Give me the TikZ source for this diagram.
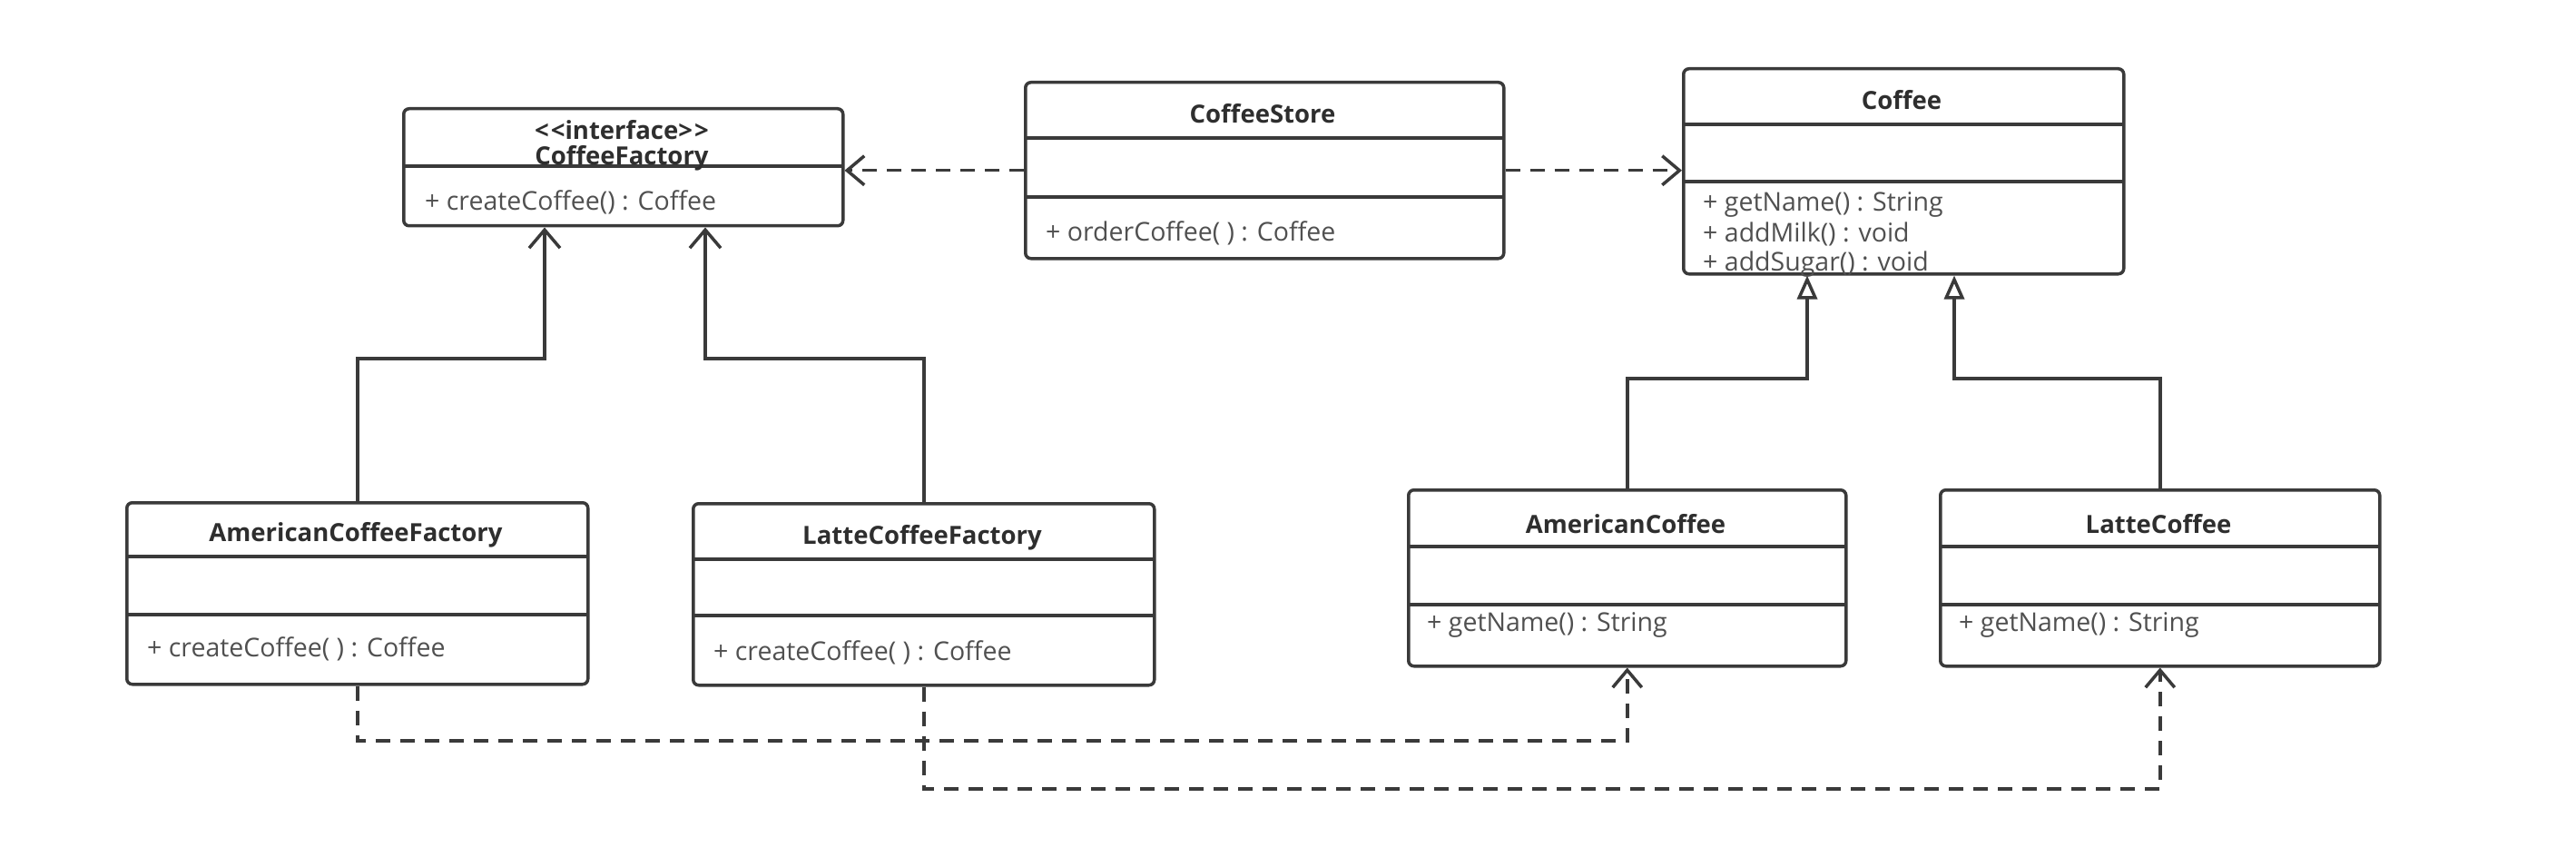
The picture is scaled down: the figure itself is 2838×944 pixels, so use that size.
\documentclass[tikz,border=0pt]{standalone}
\usepackage{fontspec}
\setmainfont{Open Sans}
\usetikzlibrary{arrows.meta}
\definecolor{ln}{HTML}{3A3A3A}
\definecolor{tx}{HTML}{505050}
\definecolor{tt}{HTML}{2E2E2E}
\tikzset{
  classbox/.style={draw=ln, line width=3.5pt, rounded corners=6pt, anchor=north west, inner sep=0pt},
  divider/.style={draw=ln, line width=3.5pt},
  title/.style={font=\fontsize{27.5}{31}\selectfont\bfseries, text=tt, inner sep=0pt},
  meth/.style={font=\fontsize{28.5}{32}\selectfont, text=tx, anchor=west, inner sep=0pt},
  conn/.style={draw=ln, line width=3.5pt},
  dep/.style={conn, dash pattern=on 16pt off 11pt, -{Straight Barb[length=19pt,width=32pt,line width=3.5pt]}},
  realize/.style={conn, -{Straight Barb[length=20pt,width=34pt,line width=3.5pt]}},
  inherit/.style={conn, -{Triangle[open,length=26pt,width=22pt,line width=3.5pt,fill=white]}},
}
\begin{document}
\begin{tikzpicture}[x=1pt,y=-1pt]
\useasboundingbox[fill=white] (0,0) rectangle (2838,944);

% CoffeeFactory
\node[classbox, minimum width=484pt, minimum height=129pt] (cf) at (443,118) {};
\draw[divider] (443,183) -- (927,183);
\node[title] (cft1) at (685,143) {<\kern2pt<interface>\kern2pt>};
\node[title] (cft2) at (685,174) {CoffeeFactory};
\node[meth] (cfm1) at (468,223) {+ createCoffee() : Coffee};

% CoffeeStore
\node[classbox, minimum width=527pt, minimum height=194pt] (cs) at (1128,89) {};
\draw[divider] (1128,152) -- (1655,152);
\draw[divider] (1128,217) -- (1655,217);
\node[title] (cst) at (1391,125) {CoffeeStore};
\node[meth] (csm1) at (1152,257) {+ orderCoffee( ) : Coffee};

% Coffee
\node[classbox, minimum width=485pt, minimum height=226pt] (co) at (1853,74) {};
\draw[divider] (1853,137) -- (2338,137);
\draw[divider] (1853,200) -- (2338,200);
\node[title] (cot) at (2095,110) {Coffee};
\node[meth] (com1) at (1876,225) {+ getName() : String};
\node[meth] (com2) at (1876,258) {+ addMilk() : void};
\node[meth] (com3) at (1876,291) {+ addSugar() : void};

% AmericanCoffeeFactory
\node[classbox, minimum width=508pt, minimum height=200pt] (acf) at (138,552) {};
\draw[divider] (138,613) -- (646,613);
\draw[divider] (138,677) -- (646,677);
\node[title] (acft) at (392,589) {AmericanCoffeeFactory};
\node[meth] (acfm) at (162,715) {+ createCoffee( ) : Coffee};

% LatteCoffeeFactory
\node[classbox, minimum width=508pt, minimum height=200pt] (lcf) at (762,553) {};
\draw[divider] (762,616) -- (1270,616);
\draw[divider] (762,678) -- (1270,678);
\node[title] (lcft) at (1016,592) {LatteCoffeeFactory};
\node[meth] (lcfm) at (786,719) {+ createCoffee( ) : Coffee};

% AmericanCoffee
\node[classbox, minimum width=482pt, minimum height=194pt] (ac) at (1550,538) {};
\draw[divider] (1550,602) -- (2032,602);
\draw[divider] (1550,666) -- (2032,666);
\node[title] (act) at (1791,577) {AmericanCoffee};
\node[meth] (acm) at (1572,688) {+ getName() : String};

% LatteCoffee
\node[classbox, minimum width=484pt, minimum height=194pt] (lc) at (2136,538) {};
\draw[divider] (2136,602) -- (2620,602);
\draw[divider] (2136,666) -- (2620,666);
\node[title] (lct) at (2378,577) {LatteCoffee};
\node[meth] (lcm) at (2158,688) {+ getName() : String};

% connectors
\draw[dep] (cs.west) -- (cf.east |- cs.west);
\draw[dep] (cs.east) -- (co.west |- cs.east);

\coordinate (k1) at (600,395);
\coordinate (k2) at (777,395);
\draw[realize] (acf.north) |- (k1) -- (k1 |- cf.south);
\draw[realize] (lcf.north) |- (k2) -- (k2 |- cf.south);

\coordinate (k3) at (1991,417);
\coordinate (k4) at (2153,417);
\draw[inherit] (ac.north) |- (k3) -- (k3 |- co.south);
\draw[inherit] (lc.north) |- (k4) -- (k4 |- co.south);

\coordinate (k5) at (0,816);
\coordinate (k6) at (0,869);
\draw[dep] (acf.south) |- (k5 -| ac.south) -- (ac.south);
\draw[dep] (lcf.south) |- (k6 -| lc.south) -- (lc.south);
\end{tikzpicture}
\end{document}
